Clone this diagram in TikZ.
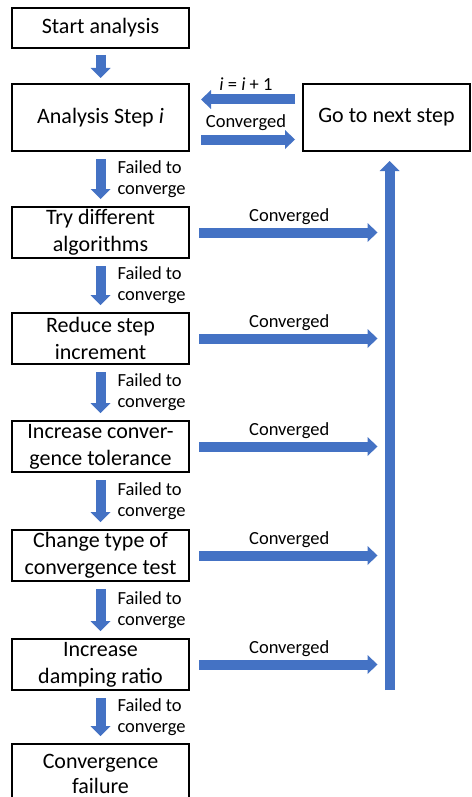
\documentclass[tikz,border=0pt]{standalone}
\usepackage{fontspec}
\setmainfont{Carlito}
\usetikzlibrary{arrows.meta,positioning}
\definecolor{arrowblue}{RGB}{68,114,196}

\begin{document}
\begin{tikzpicture}[
    node distance=56pt,
    box/.style={rectangle, draw=black, line width=1.5pt, outer sep=0pt, align=center, minimum width=177pt,
                minimum height=51pt, inner sep=2pt, font=\fontsize{22}{27}\selectfont},
    lbl/.style={align=left, inner sep=0pt, font=\fontsize{18.5}{21}\selectfont},
    darrow/.style={draw=arrowblue, line width=10pt, shorten <=8pt, shorten >=8pt,
                   -{Triangle[width=20pt, length=10pt, line width=0pt]}},
    harrow/.style={draw=arrowblue, line width=10pt,
                   -{Triangle[width=19pt, length=10pt, line width=0pt]}}
]
\useasboundingbox (0,0) rectangle (471pt,-797pt);
\node[box, minimum height=40pt] (start) at (100.5pt,-28pt) {Start analysis};
\node[box, minimum height=67pt, below=36pt of start] (step) {Analysis Step \textit{i}};
\node[box, minimum width=167pt, minimum height=67pt, right=114pt of step] (next) {Go to next step};
\node[box, below=of step] (try) {Try different\\algorithms};
\node[box, below=55pt of try] (reduce) {Reduce step\\increment};
\node[box, below=57pt of reduce] (tol) {Increase conver-\\gence tolerance};
\node[box, below=58pt of tol] (ctype) {Change type of\\convergence test};
\node[box, below=58pt of ctype] (damp) {Increase\\damping ratio};
\node[box, minimum height=60pt, below=54pt of damp, font=\fontsize{22}{25}\selectfont] (fail) {Convergence\\failure};
\coordinate (barbot) at ([xshift=3pt]next.south |- damp.south);

% down the left column
\draw[darrow, shorten <=7pt, shorten >=6pt] (start) -- (step);
\draw[darrow] (step) -- (try) node[midway, right=12pt, lbl] {Failed to\\converge};
\draw[darrow] (try) -- (reduce) node[midway, right=12pt, lbl] {Failed to\\converge};
\draw[darrow] (reduce) -- (tol) node[midway, right=12pt, lbl] {Failed to\\converge};
\draw[darrow] (tol) -- (ctype) node[midway, right=12pt, lbl] {Failed to\\converge};
\draw[darrow] (ctype) -- (damp) node[midway, right=12pt, lbl] {Failed to\\converge};
\draw[darrow] (damp) -- (fail) node[midway, right=12pt, lbl] {Failed to\\converge};

% between step and next step
\draw[harrow, shorten <=8pt, shorten >=12pt] ([yshift=18pt]next.west) -- ([yshift=18pt]step.east)
    node[midway, above=4pt, lbl] {\textit{i} = \textit{i} + 1};
\draw[harrow, shorten <=12pt, shorten >=8pt] ([yshift=-22pt]step.east) -- ([yshift=-22pt]next.west)
    node[midway, above=4pt, lbl] {Converged};

% converged branches
\draw[harrow, shorten <=10pt, shorten >=12pt] (try.east) -- (try.east -| barbot) node[midway, above=3pt, lbl] {Converged};
\draw[harrow, shorten <=10pt, shorten >=12pt] (reduce.east) -- (reduce.east -| barbot) node[midway, above=3pt, lbl] {Converged};
\draw[harrow, shorten <=10pt, shorten >=12pt] (tol.east) -- (tol.east -| barbot) node[midway, above=3pt, lbl] {Converged};
\draw[harrow, shorten <=10pt, shorten >=12pt] (ctype.east) -- (ctype.east -| barbot) node[midway, above=3pt, lbl] {Converged};
\draw[harrow, shorten <=10pt, shorten >=12pt] (damp.east) -- (damp.east -| barbot) node[midway, above=3pt, lbl] {Converged};
\draw[harrow, -{Triangle[width=20pt, length=10pt, line width=0pt]}, shorten >=10pt] (barbot) -- (barbot |- next.south);
\end{tikzpicture}
\end{document}
